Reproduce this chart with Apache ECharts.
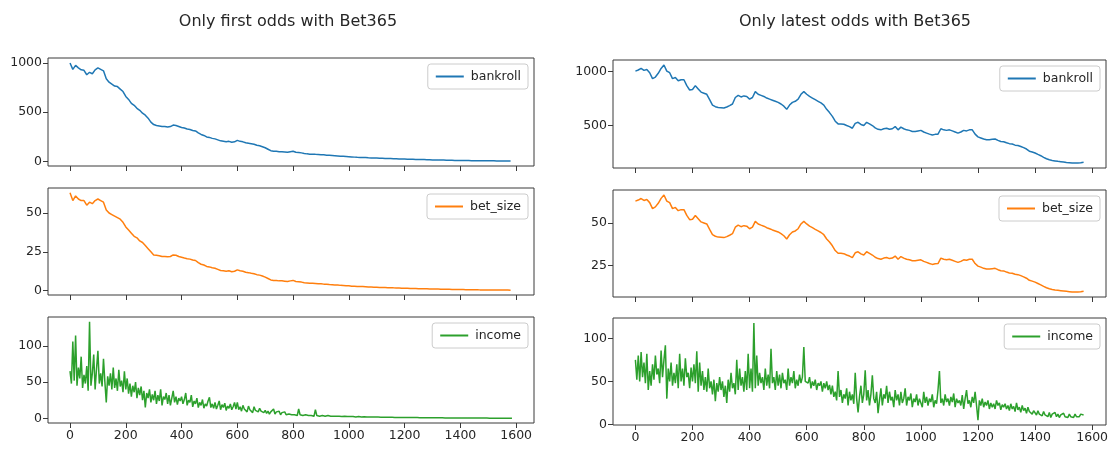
<!DOCTYPE html>
<html><head><meta charset="utf-8">
<script src="https://cdn.jsdelivr.net/npm/echarts@6/dist/echarts.min.js"></script>
<style>html,body{margin:0;padding:0;background:#fff}#c{width:1115px;height:450px}</style>
</head><body><div id="c"></div>
<script>
// ---------- tick labels ----------
const xTicks = [0, 200, 400, 600, 800, 1000, 1200, 1400, 1600];
const titles = ['Only first odds with Bet365', 'Only latest odds with Bet365'];
const seriesNames = ['bankroll', 'bet_size', 'income'];
const STEP_SLOW = 10;   // x spacing of bankroll / bet_size samples
const STEP_INC = 5;     // x spacing of income samples

// ---------- Only first odds ----------
const firstBankroll = [
1000,935,975,950,930,925,880,905,890,930,950,935,920,840,805,785,765,760,735,710,
660,630,590,570,540,520,490,470,440,400,375,365,360,355,355,350,355,370,365,355,
345,340,330,325,315,310,290,275,265,250,245,235,230,220,210,205,200,205,195,200,
215,205,200,190,185,180,175,165,160,150,140,125,110,105,105,100,100,98,95,100,
105,95,92,88,82,78,75,75,73,72,70,68,65,63,61,59,57,55,53,51,
49,47,45,43,42,41,40,38,37,36,35,34,33,32,31,30,29,28,27,26,
25,24,23,23,22,21,20,20,19,18,17,17,16,15,15,14,14,13,12,12,
11,11,10,10,9,9,9,8,8,8,7,7,7,6,6,6,6,5,5];
const firstBetSize = [
63,58,61,59,58,58,55,57,56,58,59,58,57,52,50,49,48,47,46,44,
41,39,37,35,34,32,31,29,27,25,23,22.8,22.5,22,22,21.8,22,23,22.8,22,
21.5,21,20.6,20.3,19.7,19.4,18,17,16.5,15.6,15.3,14.7,14.4,13.7,13,12.8,12.5,12.8,12.2,12.5,
13.4,12.8,12.5,11.9,11.6,11.2,10.9,10.3,10,9.4,8.7,7.8,6.9,6.6,6.6,6.3,6.3,6.1,5.9,6.3,
6.6,5.9,5.8,5.5,5.1,4.9,4.7,4.7,4.6,4.5,4.4,4.2,4.1,3.9,3.8,3.7,3.6,3.4,3.3,3.2,
3.1,2.9,2.8,2.7,2.6,2.6,2.5,2.4,2.3,2.2,2.2,2.1,2.1,2.0,1.9,1.9,1.8,1.75,1.7,1.6,
1.55,1.5,1.45,1.4,1.4,1.3,1.25,1.25,1.2,1.1,1.05,1.05,1.0,0.95,0.95,0.9,0.85,0.8,0.75,0.75,
0.7,0.7,0.65,0.6,0.6,0.55,0.55,0.5,0.5,0.5,0.45,0.45,0.45,0.4,0.4,0.35,0.35,0.35,0.3];
const firstIncome = [
65,48,106,52,114,45,70,55,85,42,60,48,72,38,133,45,62,88,40,68,
93,48,62,44,82,50,22,58,45,62,40,70,42,55,38,67,44,52,36,65,
40,55,34,48,30,45,36,50,28,42,32,44,25,38,15,35,28,40,22,33,
25,38,20,32,24,40,18,30,26,35,20,32,18,28,38,22,30,19,28,24,
30,20,26,35,18,25,22,32,16,24,20,28,15,22,18,26,14,20,17,24,
29,15,20,14,22,13,18,24,12,19,15,21,11,17,14,20,12,16,22,13,
22,12,16,10,18,13,15,9,17,12,14,8,16,11,13,9,14,10,12,8,
11,7,10,6,9,8,13,6,9,7,10,5,8,6,9,5,7,6,8,5,
7,5,6,4,13,5,7,4,6,5,7,4,6,4,5,3,12,4,5,3,
5,4,6,3,5,4,5,3,4,3,5,3,4,3,4,2.5,4,3,3.5,2.5,
3.5,2.5,3,2.5,3.5,2,3,2.5,3,2,2.8,2.2,3.5,2,2.6,2,2.5,1.8,2.4,1.9,
2.3,1.8,2.2,1.7,2.1,1.6,2.0,1.6,1.9,1.5,1.9,1.5,1.8,1.4,1.7,1.4,1.7,1.3,1.6,1.3,
1.5,1.3,1.5,1.2,1.4,1.2,1.4,1.1,1.3,1.1,1.3,1.0,1.2,1.0,1.2,0.95,1.1,0.95,1.1,0.9,
1.0,0.9,1.0,0.85,0.95,0.8,0.95,0.8,0.9,0.75,0.9,0.75,0.85,0.7,0.8,0.7,0.8,0.65,0.75,0.65,
0.75,0.6,0.7,0.6,0.7,0.55,0.65,0.55,0.6,0.5,0.6,0.5,0.55,0.5,0.55,0.45,0.5,0.45,0.5,0.45,
0.5,0.4,0.45,0.4,0.45,0.4,0.42,0.35,0.4,0.35,0.4,0.35,0.38,0.33,0.36,0.33,0.35,0.32];

// ---------- Only latest odds ----------
const latestBankroll = [
1005,1015,1030,1012,1020,990,935,950,985,1030,1062,1005,990,935,945,915,925,925,870,830,
835,870,840,810,800,790,740,690,675,668,665,662,672,685,700,760,780,765,775,770,
745,760,815,790,780,770,755,745,735,725,715,700,680,650,690,715,725,745,790,815,
790,770,755,740,725,710,690,650,620,585,540,515,515,512,500,490,475,520,530,510,
500,530,515,500,478,465,460,470,475,465,470,490,460,485,470,460,455,445,445,450,
455,440,430,420,412,418,420,470,460,455,460,450,440,430,440,455,450,460,460,420,
395,385,375,368,368,372,375,362,352,350,340,332,328,318,315,305,295,282,262,255,
245,232,220,205,192,182,176,172,168,165,162,158,155,152,152,153,155,160];
const latestBetSize = [
62.8,63.4,64.3,63.2,63.7,61.9,58.4,59.4,61.5,64.4,66.4,62.8,61.9,58.4,59.1,57.2,57.8,57.8,54.4,51.9,
52.2,54.4,52.5,50.6,50,49.4,46.2,43.1,42.2,41.7,41.6,41.4,42,42.8,43.7,47.5,48.7,47.8,48.4,48.1,
46.6,47.5,50.9,49.4,48.7,48.1,47.2,46.6,45.9,45.3,44.7,43.7,42.5,40.6,43.1,44.7,45.3,46.6,49.4,50.9,
49.4,48.1,47.2,46.2,45.3,44.4,43.1,40.6,38.8,36.6,33.8,32.2,32.2,32,31.2,30.6,29.7,32.5,33.1,31.9,
31.2,33.1,32.2,31.2,29.9,29.1,28.7,29.4,29.7,29.1,29.4,30.6,28.7,30.3,29.4,28.7,28.4,27.8,27.8,28.1,
28.4,27.5,26.9,26.2,25.7,26.1,26.2,29.4,28.7,28.4,28.7,28.1,27.5,26.9,27.5,28.4,28.1,28.7,28.7,26.2,
24.7,24.1,23.4,23,23,23.2,23.4,22.6,22,21.9,21.2,20.7,20.5,19.9,19.7,19.1,18.4,17.6,16.4,15.9,
15.3,14.5,13.7,12.8,12,11.4,11,10.7,10.5,10.3,10.1,9.9,9.7,9.5,9.5,9.6,9.7,10];
const latestIncome = [
75,52,80,50,84,55,72,48,82,40,62,45,70,52,80,58,65,48,86,55,
75,92,30,65,50,72,45,60,48,70,42,82,50,65,45,77,55,60,42,66,
50,70,48,85,38,72,45,62,40,55,38,65,42,50,35,52,27,48,38,55,
40,50,32,45,25,52,38,60,42,48,35,75,40,65,45,55,38,62,40,82,
42,65,38,118,42,80,45,60,48,55,40,65,45,58,42,88,48,55,40,62,
45,58,42,60,48,52,40,65,45,55,48,62,42,52,45,58,48,55,90,50,
52,48,55,42,50,45,52,40,48,45,50,38,48,42,50,40,46,35,45,32,
38,28,62,32,40,25,35,30,42,22,38,28,35,24,60,30,14,32,45,25,
35,63,28,40,22,35,57,30,25,38,13,28,42,22,35,30,45,25,38,28,
32,20,40,28,35,22,38,25,30,42,22,32,28,36,20,30,26,35,22,30,
28,20,38,25,32,22,30,26,35,20,28,24,40,62,25,30,22,35,26,30,
22,32,26,36,20,30,25,28,22,34,18,30,40,24,28,20,32,25,38,22,
5,28,22,30,20,26,22,28,18,25,20,24,18,28,22,25,17,23,20,24,
18,22,16,24,18,21,15,25,17,20,14,22,16,19,13,20,15,17,12,16,
14,11,16,12,14,10,15,11,13,9,14,8,12,10,14,9,12,8,11,10,
13,9,11,8,12,9,11,8,12,9,10,9,12,10,11];

// ---------- y tick labels ----------
const yTicksFirst = [[0, 500, 1000], [0, 25, 50], [0, 50, 100]];
const yTicksLatest = [[500, 1000], [25, 50], [0, 50, 100]];

// ---------- layout / styles ----------
const COLORS = ['#1f77b4', '#ff7f0e', '#2ca02c'];
const FONT = 'DejaVu Sans';
const TXT = '#262626';
const cols = [
  {left: 48, width: 486, tops: [58, 188, 317], heights: [108, 107, 106],
   xMin: -79, xMax: 1664, yRange: [[-45, 1050], [-2.8, 66.1], [-6.3, 139.6]],
   yTicks: yTicksFirst, data: [firstBankroll, firstBetSize, firstIncome], titleX: 283},
  {left: 613, width: 493, tops: [60, 190, 318], heights: [108, 107, 107],
   xMin: -78.5, xMax: 1648.5, yRange: [[106, 1108], [6.6, 69.3], [-0.65, 123.7]],
   yTicks: yTicksLatest, data: [latestBankroll, latestBetSize, latestIncome], titleX: 850}
];
const steps = [STEP_SLOW, STEP_SLOW, STEP_INC];
const plain = v => String(v);

const grid = [], xAxis = [], yAxis = [], series = [], legend = [], title = [];
cols.forEach((c, ci) => {
  title.push({text: titles[ci], left: c.titleX, top: 9, textAlign: 'center',
    textStyle: {fontFamily: FONT, fontSize: 16, fontWeight: 'normal', color: TXT}});
  for (let r = 0; r < 3; r++) {
    const gi = grid.length;
    grid.push({left: c.left, top: c.tops[r], width: c.width, height: c.heights[r],
      show: true, borderColor: '#3a3a3a', borderWidth: 1, backgroundColor: 'transparent'});
    xAxis.push({type: 'value', gridIndex: gi, min: c.xMin, max: c.xMax, position: 'bottom',
      axisLine: {show: false, onZero: false}, splitLine: {show: false},
      axisTick: {show: true, customValues: xTicks, length: 5, lineStyle: {color: '#3a3a3a', width: 1}},
      axisLabel: {show: r === 2, customValues: xTicks, formatter: plain, fontFamily: FONT, fontSize: 12.5, color: TXT, margin: 6}});
    yAxis.push({type: 'value', gridIndex: gi, min: c.yRange[r][0], max: c.yRange[r][1], position: 'left',
      axisLine: {show: false, onZero: false}, splitLine: {show: false},
      axisTick: {show: true, customValues: c.yTicks[r], length: 5, lineStyle: {color: '#3a3a3a', width: 1}},
      axisLabel: {customValues: c.yTicks[r], formatter: plain, fontFamily: FONT, fontSize: 12.5, color: TXT, margin: 6}});
    const step = steps[r];
    series.push({type: 'line', name: seriesNames[r], xAxisIndex: gi, yAxisIndex: gi,
      data: c.data[r].map((v, i) => [i * step, v]),
      showSymbol: false, symbol: 'none', color: COLORS[r],
      lineStyle: {width: 1.5, color: COLORS[r]}, emphasis: {disabled: true}, silent: true});
    legend.push({data: [{name: seriesNames[r], icon: 'rect'}], selectedMode: false,
      right: 1115 - (c.left + c.width) + 6, top: c.tops[r] + 6,
      itemWidth: 28, itemHeight: 2, itemGap: 6,
      padding: [6, 7, 6, 8], backgroundColor: 'rgba(255,255,255,0.8)',
      borderColor: '#cccccc', borderWidth: 1, borderRadius: 3,
      textStyle: {fontFamily: FONT, fontSize: 12.5, color: TXT, padding: [0, 0, 0, 2]}});
  }
});

const chart = echarts.init(document.getElementById('c'), null, {renderer: 'canvas'});
chart.setOption({animation: false, backgroundColor: '#ffffff', title, grid, xAxis, yAxis, series, legend});
</script>
</body></html>
